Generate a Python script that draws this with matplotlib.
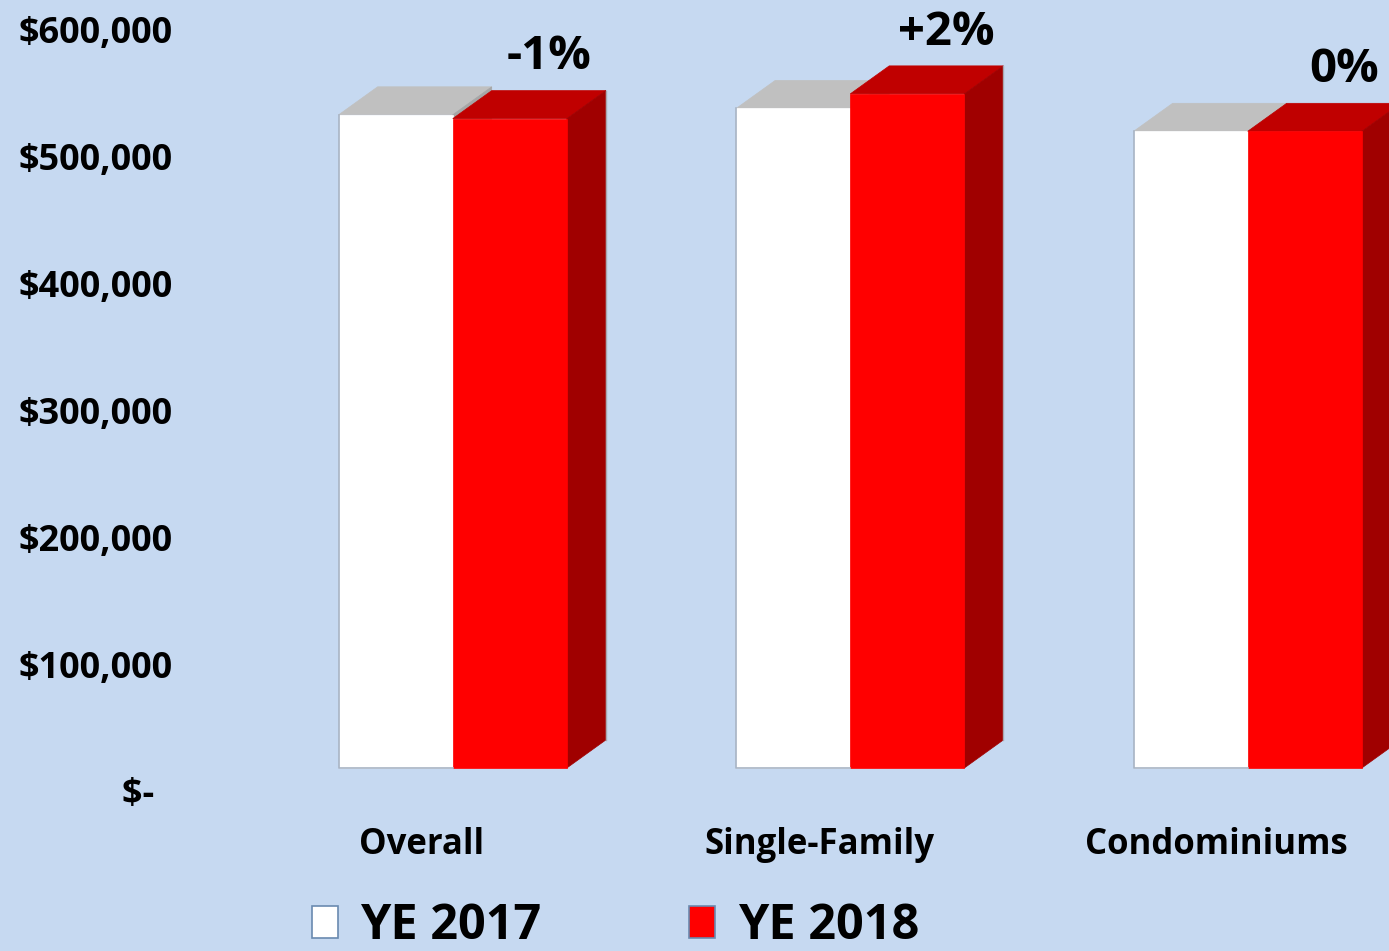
import matplotlib.pyplot as plt
from matplotlib.patches import Polygon, Patch
from matplotlib.ticker import FuncFormatter

# données du graphique
categories = ["Overall", "Single-Family", "Condominiums"]
ye2017 = [515000, 520000, 502000]
ye2018 = [512000, 531500, 502000]
changes = ["-1%", "+2%", "0%"]
series_names = ["YE 2017", "YE 2018"]

bg = "#C6D9F1"
font = "Open Sans"

fig = plt.figure(figsize=(13.89, 9.51), dpi=100, facecolor=bg)
# axe placé pour que 0 tombe au bas et 600 000 en haut
ax = fig.add_axes([223 / 1389, 160 / 951, 1166 / 1389, 761 / 951])
ax.set_facecolor(bg)
ax.set_xlim(-0.5, -0.5 + 1166 / 397.5)
ax.set_ylim(0, 600000)

# paramètres de la perspective (en unités de données)
w = 0.287            # largeur d'une barre
fx, fy = 0.078, 18134   # décalage sol avant -> face avant des barres
dx, dy = 0.098, 22077   # profondeur des barres

faces = {
    0: dict(front="#FFFFFF", top="#C0C0C0", side="#A6A6A6"),
    1: dict(front="#FF0000", top="#C00000", side="#A00000"),
}


def draw_bar(x0, h, col):
    y0 = fy
    y1 = fy + h
    x1 = x0 + w
    # dessus
    ax.add_patch(Polygon([(x0, y1), (x1, y1), (x1 + dx, y1 + dy), (x0 + dx, y1 + dy)],
                         closed=True, facecolor=col["top"], edgecolor=col["top"], lw=0.5, clip_on=False))
    # côté droit
    ax.add_patch(Polygon([(x1, y0), (x1 + dx, y0 + dy), (x1 + dx, y1 + dy), (x1, y1)],
                         closed=True, facecolor=col["side"], edgecolor=col["side"], lw=0.5, clip_on=False))
    # face avant
    ax.add_patch(Polygon([(x0, y0), (x1, y0), (x1, y1), (x0, y1)],
                         closed=True, facecolor=col["front"], edgecolor=col["front"], lw=0.5, clip_on=False))


for i, cat in enumerate(categories):
    base = i + fx - w
    # contour gris léger de la barre blanche
    draw_bar(base, ye2017[i], faces[0])
    ax.plot([base, base, base + w], [fy + ye2017[i], fy, fy], color="#A8B4C4", lw=1.2, clip_on=False)
    draw_bar(base + w, ye2018[i], faces[1])
    ax.plot([base + 2 * w + dx] * 2, [fy + dy, fy + dy + ye2018[i]], color="#A8A8B0", lw=1.0, clip_on=False)
    # étiquette de variation au-dessus de la barre rouge
    ax.text(base + 1.5 * w + dx, fy + dy + ye2018[i] + 8000, changes[i],
            ha="center", va="bottom", fontsize=34, fontweight="bold", family=font, clip_on=False)


def money(v, pos):
    if v == 0:
        return "$-  "
    return "${:,.0f}".format(v)


ax.set_yticks(range(0, 600001, 100000))
ax.yaxis.set_major_formatter(FuncFormatter(money))
ax.set_xticks(range(len(categories)))
ax.set_xticklabels(categories)
ax.tick_params(axis="y", length=0, pad=36, labelsize=26)
ax.tick_params(axis="x", length=0, pad=26, labelsize=25)
for lab in ax.get_yticklabels() + ax.get_xticklabels():
    lab.set_fontweight("bold")
    lab.set_family(font)
for s in ax.spines.values():
    s.set_visible(False)

handles = [Patch(facecolor="#FFFFFF", edgecolor="#6A8AB0", lw=1.2),
           Patch(facecolor="#FF0000", edgecolor="#6A8AB0", lw=1.2)]
fig.legend(handles, series_names, loc="center", bbox_to_anchor=(0.443, 0.026), ncol=2,
           frameon=False, prop=dict(family=font, weight="bold", size=35),
           handlelength=0.53, handleheight=0.64, handletextpad=0.46, columnspacing=3.05)

plt.savefig("out.png", dpi=100, facecolor=bg)
